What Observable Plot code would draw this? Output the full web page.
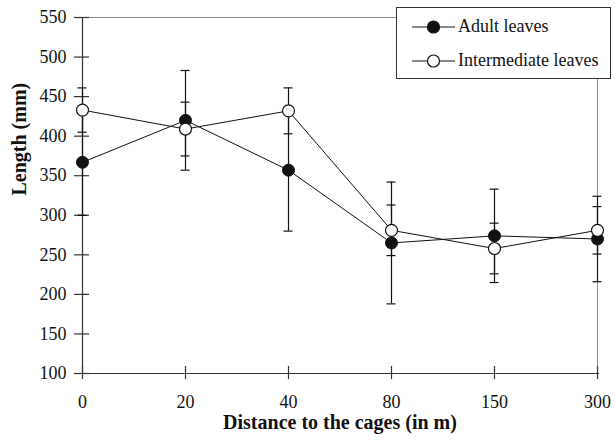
<!DOCTYPE html>
<html>
<head>
<meta charset="utf-8">
<script src="https://cdn.jsdelivr.net/npm/d3@7"></script>
<script src="https://cdn.jsdelivr.net/npm/@observablehq/plot@0.6"></script>
<style>
  html, body { margin: 0; padding: 0; background: #fff; }
  #wrap { position: relative; width: 615px; height: 440px; font-family: "Liberation Serif", "DejaVu Serif", serif; }
  #legend { position: absolute; left: 396px; top: 7px; width: 213px; height: 70px; background: #fff; border: 1px solid #333; }
  .entry { position: absolute; left: 15px; display: flex; align-items: center; font-size: 18px; color: #111; white-space: nowrap; }
  .entry svg { margin-right: 2px; }
</style>
</head>
<body>
<div id="wrap"></div>
<script>
// Data
const distances = ["0", "20", "40", "80", "150", "300"];
const adultMean = [367, 420, 357, 265, 274, 270];
const adultErr  = [67, 63, 77, 77, 59, 54];
const interMean = [433, 409, 432, 281, 258, 281];
const interErr  = [28, 34, 29, 32, 32, 30];
const yTicks = [100, 150, 200, 250, 300, 350, 400, 450, 500, 550];
const seriesNames = ["Adult leaves", "Intermediate leaves"];
const xTitle = "Distance to the cages (in m)";
const yTitle = "Length (mm)";

const adult = distances.map((d, i) => ({d, v: adultMean[i], lo: adultMean[i] - adultErr[i], hi: adultMean[i] + adultErr[i], s: seriesNames[0]}));
const inter = distances.map((d, i) => ({d, v: interMean[i], lo: interMean[i] - interErr[i], hi: interMean[i] + interErr[i], s: seriesNames[1]}));

const font = '"Liberation Serif", "DejaVu Serif", serif';
const cap = (data, key) => Plot.ruleY(data, {y: key, x1: "d", x2: "d", insetLeft: -4.5, insetRight: -4.5, stroke: "#111", strokeWidth: 1.2});

const chart = Plot.plot({
  width: 615,
  height: 440,
  marginLeft: 80,
  marginRight: 16,
  marginTop: 17,
  marginBottom: 67,
  style: {fontFamily: font, fontSize: "18px", color: "#111", background: "white"},
  x: {type: "point", domain: distances, padding: 0, label: null},
  y: {domain: [100, 550], label: null},
  marks: [
    // frame top & right (light)
    Plot.ruleY([550], {stroke: "#888", strokeWidth: 1}),
    Plot.ruleX(["300"], {stroke: "#888", strokeWidth: 1}),
    // axes lines
    Plot.ruleY([100], {stroke: "#333", strokeWidth: 1.2}),
    Plot.ruleX(["0"], {stroke: "#333", strokeWidth: 1.2}),
    // crossing ticks
    Plot.ruleY(yTicks, {y: d => d, x1: () => "0", x2: () => "0", insetLeft: -8, insetRight: -7, stroke: "#333", strokeWidth: 1.2}),
    Plot.ruleX(distances, {x: d => d, y1: () => 100, y2: () => 100, insetTop: -7, insetBottom: -6, stroke: "#333", strokeWidth: 1.2}),
    // tick labels
    Plot.axisY({ticks: yTicks, tickSize: 0, tickPadding: 14, fontSize: 18, fontFamily: font, label: null}),
    Plot.axisX({tickSize: 0, tickPadding: 22, fontSize: 18, fontFamily: font, label: null}),
    // titles
    Plot.text([yTitle], {text: d => d, frameAnchor: "left", dx: -61, rotate: -90, fontWeight: "bold", fontSize: 20, fontFamily: font, fill: "#111"}),
    Plot.text([xTitle], {text: d => d, frameAnchor: "bottom", dy: 55, fontWeight: "bold", fontSize: 20, fontFamily: font, fill: "#111"}),
    // error bars
    Plot.ruleX(adult, {x: "d", y1: "lo", y2: "hi", stroke: "#111", strokeWidth: 1.2}),
    cap(adult, "lo"), cap(adult, "hi"),
    Plot.ruleX(inter, {x: "d", y1: "lo", y2: "hi", stroke: "#111", strokeWidth: 1.2}),
    cap(inter, "lo"), cap(inter, "hi"),
    // lines
    Plot.line(adult, {x: "d", y: "v", stroke: "#111", strokeWidth: 1}),
    Plot.line(inter, {x: "d", y: "v", stroke: "#111", strokeWidth: 1}),
    // dots
    Plot.dot(adult, {x: "d", y: "v", r: 6, fill: "#111", stroke: "#111", strokeWidth: 1}),
    Plot.dot(inter, {x: "d", y: "v", r: 6, fill: "white", stroke: "#111", strokeWidth: 1.2})
  ]
});

const wrap = document.getElementById("wrap");
wrap.appendChild(chart);

// legend
const legend = document.createElement("div");
legend.id = "legend";
const ns = "http://www.w3.org/2000/svg";
seriesNames.forEach((name, i) => {
  const e = document.createElement("div");
  e.className = "entry";
  e.style.top = (i === 0 ? 8 : 42) + "px";
  const svg = document.createElementNS(ns, "svg");
  svg.setAttribute("width", 44);
  svg.setAttribute("height", 16);
  const ln = document.createElementNS(ns, "line");
  ln.setAttribute("x1", 0); ln.setAttribute("x2", 43);
  ln.setAttribute("y1", 8); ln.setAttribute("y2", 8);
  ln.setAttribute("stroke", "#111"); ln.setAttribute("stroke-width", 1);
  const c = document.createElementNS(ns, "circle");
  c.setAttribute("cx", 21.5); c.setAttribute("cy", 8); c.setAttribute("r", 6);
  c.setAttribute("fill", i === 0 ? "#111" : "white");
  c.setAttribute("stroke", "#111"); c.setAttribute("stroke-width", 1.2);
  svg.appendChild(ln); svg.appendChild(c);
  const t = document.createElement("span");
  t.textContent = name;
  e.appendChild(svg); e.appendChild(t);
  legend.appendChild(e);
});
wrap.appendChild(legend);
</script>
</body>
</html>
